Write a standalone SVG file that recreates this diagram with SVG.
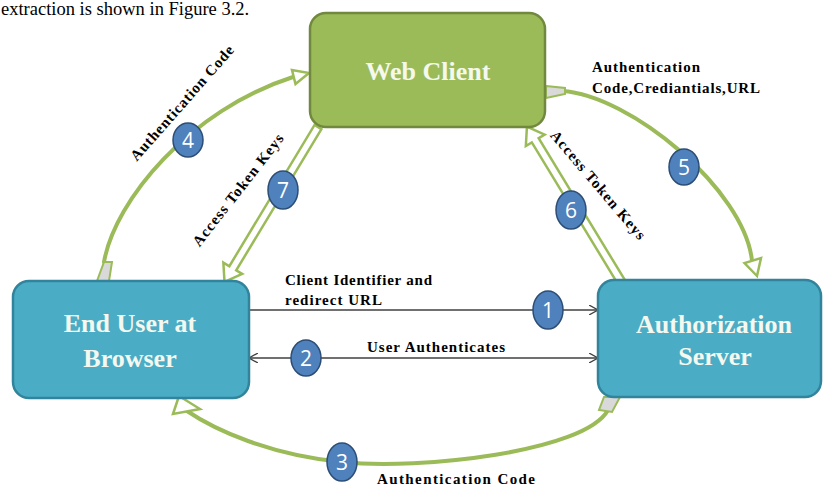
<svg xmlns="http://www.w3.org/2000/svg" width="823" height="488" viewBox="0 0 823 488">
<style>
.curve{fill:none;stroke:#9BBB59;stroke-width:4;stroke-linecap:round}
.head{fill:#FFFFFF;stroke:#9BBB59;stroke-width:2.5;stroke-linejoin:miter}
.tail{fill:#D9D9D9;stroke:#9BBB59;stroke-width:2}
.line{fill:none;stroke:#404040;stroke-width:1.5}
.lbl{font-family:"Liberation Serif","Times New Roman",serif;font-weight:bold;font-size:15px;fill:#000}
.nodeTxt{font-family:"Liberation Serif","Times New Roman",serif;font-weight:bold;font-size:26px;fill:#F4F8EE;text-anchor:middle}
.badge ellipse{fill:#4F81BD;stroke:#2C4D75;stroke-width:1.5}
.badge text{font-family:"Open Sans","Liberation Sans",sans-serif;font-size:21px;fill:#FFFFFF;text-anchor:middle}
</style>
<defs>
<marker id="open" viewBox="0 0 10 10" refX="9" refY="5" markerWidth="10" markerHeight="10" markerUnits="userSpaceOnUse" orient="auto-start-reverse">
<path d="M0,0 L9,5 L0,10" fill="none" stroke="#404040" stroke-width="1.3"/>
</marker>
</defs>

<text x="1" y="15" font-family="Liberation Serif, Times New Roman, serif" font-size="18.5" fill="#000">extraction is shown in Figure 3.2.</text>

<g id="connectors">
  <!-- 4: End User -> Web Client (curved) -->
  <g id="c4">
    <path class="curve" d="M 104 262 C 115 200, 190 110, 293 77"/>
    <polygon class="tail" points="97,281 109,281 112,262 104,262"/>
    <polygon class="head" points="309,73 295.5,84 292,70"/>
  </g>
  <!-- 5: Web Client -> Authorization Server (curved) -->
  <g id="c5">
    <path class="curve" d="M 562 91 C 630 95, 745 190, 752 261"/>
    <polygon class="tail" points="546,86 565,88 565,94 546,98"/>
    <polygon class="head" points="757,276 744.5,263 761,258"/>
  </g>
  <!-- 3: Authorization Server -> End User (curved) -->
  <g id="c3">
    <path class="curve" d="M 608 410 C 585 452, 420 470, 342 462 C 270 455, 215 430, 187 411"/>
    <polygon class="tail" points="604,397 620,397 612,412 599,410"/>
    <polygon class="head" points="179,396 200,409 173,414"/>
  </g>
  <!-- 7: Web Client -> End User (hollow straight) -->
  <g id="c7">
    <polygon class="head" transform="translate(318,127) rotate(121.1)" points="0,-4 165,-4 165,-11 181,0 165,11 165,4 0,4"/>
  </g>
  <!-- 6: Authorization Server -> Web Client (hollow straight) -->
  <g id="c6">
    <polygon class="head" transform="translate(622,283) rotate(-121.3)" points="0,-4 167,-4 167,-11 183,0 167,11 167,4 0,4"/>
  </g>
  <!-- 1 -->
  <g id="c1">
    <line class="line" x1="249" y1="310" x2="598" y2="310" marker-end="url(#open)"/>
  </g>
  <!-- 2 -->
  <g id="c2">
    <line class="line" x1="249" y1="358" x2="598" y2="358" marker-start="url(#open)" marker-end="url(#open)"/>
  </g>
</g>

<g id="labels">
  <text class="lbl" transform="translate(182,103) rotate(-48.6)" x="0" y="5" text-anchor="middle" textLength="148">Authentication Code</text>
  <text class="lbl" transform="translate(238,190) rotate(-52)" x="0" y="5" text-anchor="middle" textLength="138">Access Token Keys</text>
  <text class="lbl" transform="translate(598,185) rotate(49.6)" x="0" y="5" text-anchor="middle" textLength="138">Access Token Keys</text>
  <text class="lbl" x="592" y="72" textLength="108">Authentication</text>
  <text class="lbl" x="592" y="93" textLength="168">Code,Crediantials,URL</text>
  <text class="lbl" x="285" y="285" textLength="147">Client Identifier and</text>
  <text class="lbl" x="285" y="305" textLength="97">redirect URL</text>
  <text class="lbl" x="367" y="352" textLength="138">User Authenticates</text>
  <text class="lbl" x="377" y="484" textLength="158">Authentication Code</text>
</g>

<g id="web-client">
  <rect x="310" y="13" width="235" height="114" rx="16" fill="#9BBB59" stroke="#71893F" stroke-width="2.5"/>
  <text class="nodeTxt" x="428" y="80">Web Client</text>
</g>
<g id="end-user">
  <rect x="13" y="281" width="236" height="117" rx="16" fill="#4BACC6" stroke="#31849B" stroke-width="2.5"/>
  <text class="nodeTxt" x="130" y="332">End User at</text>
  <text class="nodeTxt" x="130" y="367">Browser</text>
</g>
<g id="auth-server">
  <rect x="598" y="280" width="223" height="117" rx="16" fill="#4BACC6" stroke="#31849B" stroke-width="2.5"/>
  <text class="nodeTxt" x="714" y="333">Authorization</text>
  <text class="nodeTxt" x="715" y="365">Server</text>
</g>

<g id="badge1" class="badge"><ellipse cx="548" cy="310" rx="15" ry="19"/><text x="548" y="318">1</text></g>
<g id="badge2" class="badge"><ellipse cx="306" cy="358" rx="15" ry="18"/><text x="306" y="366">2</text></g>
<g id="badge3" class="badge"><ellipse cx="342" cy="462" rx="15" ry="19"/><text x="342" y="470">3</text></g>
<g id="badge4" class="badge"><ellipse cx="188" cy="140" rx="15" ry="17"/><text x="188" y="148">4</text></g>
<g id="badge5" class="badge"><ellipse cx="684" cy="167" rx="15" ry="18"/><text x="684" y="175">5</text></g>
<g id="badge6" class="badge"><ellipse cx="571" cy="210" rx="15" ry="19"/><text x="571" y="218">6</text></g>
<g id="badge7" class="badge"><ellipse cx="283" cy="190" rx="15" ry="19"/><text x="283" y="198">7</text></g>
</svg>
